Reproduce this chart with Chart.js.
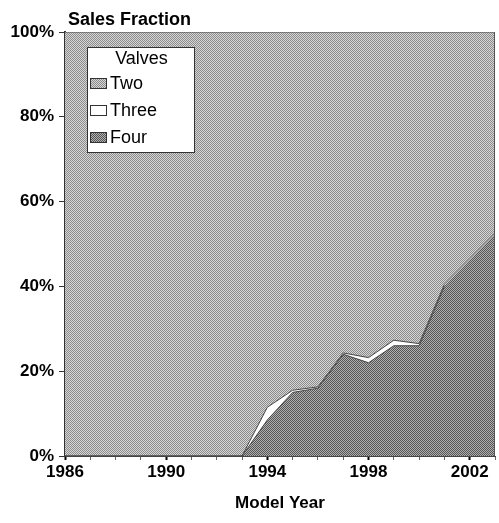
<!DOCTYPE html>
<html>
<head>
<meta charset="utf-8">
<script src="https://cdn.jsdelivr.net/npm/chart.js@4.4.1/dist/chart.umd.min.js"></script>
<style>
html, body { margin: 0; padding: 0; background: #fff; }
</style>
</head>
<body>
<canvas id="chart" width="499" height="523"></canvas>
<script>
// data (percent of sales)
const years = [1986, 1987, 1988, 1989, 1990, 1991, 1992, 1993, 1994, 1995, 1996, 1997, 1998, 1999, 2000, 2001, 2002, 2003];
const four  = [0, 0, 0, 0, 0, 0, 0, 0, 8.5, 15, 16, 24, 22, 26, 26, 40, 46, 52];
const three = [0, 0, 0, 0, 0, 0, 0, 0, 3, 0.5, 0.3, 0.3, 1.2, 1.3, 0.5, 0.5, 0.5, 0.5];
const two   = [100, 100, 100, 100, 100, 100, 100, 100, 88.5, 84.5, 83.7, 75.7, 76.8, 72.7, 73.5, 59.5, 53.5, 47.5];
const yearLabels = [1986, 1990, 1994, 1998, 2002];

const FONT = "'Liberation Sans', Arial, sans-serif";

// small checker stipple, like the printed halftone
function makePattern(light, dark){
    const c = document.createElement("canvas");
    c.width = 2; c.height = 2;
    const g = c.getContext("2d");
    g.fillStyle = light;
    g.fillRect(0, 0, 2, 2);
    g.fillStyle = dark;
    g.fillRect(0, 0, 1, 1);
    g.fillRect(1, 1, 1, 1);
    return g.createPattern(c, "repeat");
}

const ctx = document.getElementById("chart").getContext("2d");
const twoFill = makePattern("#d6d6d6", "#8c8c8c");
const fourFill = makePattern("#b0b0b0", "#555555");

const series = [
    { label: "Four",  data: four,  fill: "origin", bg: fourFill },
    { label: "Three", data: three, fill: "-1", bg: "#ffffff" },
    { label: "Two",   data: two,   fill: "-1", bg: twoFill }
];

const frame = {
    id: "frame",
    afterDraw(chart){
        const a = chart.chartArea;
        const c = chart.ctx;
        c.save();
        c.strokeStyle = "#555";
        c.lineWidth = 1;
        c.beginPath();
        c.moveTo(a.right - 0.5, a.top);
        c.lineTo(a.right - 0.5, a.bottom);
        c.stroke();

        // title over the plot
        c.fillStyle = "#000";
        c.font = "bold 18px " + FONT;
        c.textBaseline = "alphabetic";
        c.textAlign = "left";
        c.fillText("Sales Fraction", a.left + 3, a.top - 7);

        // legend box
        const lx = a.left + 22, ly = a.top + 15, lw = 107, lh = 105;
        c.fillStyle = "#fff";
        c.fillRect(lx, ly, lw, lh);
        c.strokeStyle = "#333";
        c.strokeRect(lx + 0.5, ly + 0.5, lw, lh);
        c.fillStyle = "#000";
        c.font = "18px " + FONT;
        c.textAlign = "center";
        c.textBaseline = "middle";
        c.fillText("Valves", lx + lw / 2 + 1, ly + 12);
        const items = [series[2], series[1], series[0]];
        items.forEach(function(s, i){
            const iy = ly + 36 + i * 27;
            c.fillStyle = s.bg;
            c.fillRect(lx + 3, iy - 5, 16, 10);
            c.strokeStyle = "#333";
            c.strokeRect(lx + 3.5, iy - 4.5, 16, 10);
            c.fillStyle = "#000";
            c.textAlign = "left";
            c.fillText(s.label, lx + 23, iy + 1);
        });
        c.restore();
    }
};

new Chart(ctx, {
    type: "line",
    data: {
        labels: years,
        datasets: series.map(function(s){
            return {
                label: s.label,
                data: s.data.map(function(v, i){ return { x: years[i], y: v }; }),
                fill: s.fill,
                backgroundColor: s.bg,
                borderColor: "#444",
                borderWidth: 1,
                pointRadius: 0,
                tension: 0
            };
        })
    },
    options: {
        responsive: false,
        animation: false,
        devicePixelRatio: 1,
        layout: { padding: { top: 32, right: 4, left: 0, bottom: 0 } },
        plugins: {
            legend: { display: false },
            tooltip: { enabled: false }
        },
        scales: {
            x: {
                type: "linear",
                min: 1986,
                max: 2003,
                afterFit: function(scale){ scale.height = 67; },
                border: { color: "#444", width: 1 },
                grid: {
                    drawOnChartArea: false,
                    tickLength: 4,
                    color: function(c){ return yearLabels.indexOf(c.tick.value) >= 0 ? "#000" : "#666"; },
                    tickWidth: function(c){ return yearLabels.indexOf(c.tick.value) >= 0 ? 2 : 1; }
                },
                ticks: {
                    stepSize: 1,
                    autoSkip: false,
                    maxRotation: 0,
                    padding: 2,
                    color: "#000",
                    font: { family: FONT, size: 17, weight: "bold" },
                    callback: function(v){ return yearLabels.indexOf(v) >= 0 ? String(v) : ""; }
                },
                title: {
                    display: true,
                    text: "Model Year",
                    color: "#000",
                    font: { family: FONT, size: 17, weight: "bold" },
                    padding: { top: 0, bottom: 9 }
                }
            },
            y: {
                stacked: true,
                min: 0,
                max: 100,
                afterFit: function(scale){ scale.width = 65; },
                border: { color: "#333", width: 2 },
                grid: { drawOnChartArea: false, tickLength: 6, color: "#333" },
                ticks: {
                    stepSize: 20,
                    padding: 5,
                    color: "#000",
                    font: { family: FONT, size: 17, weight: "bold" },
                    callback: function(v){ return v + "%"; }
                }
            }
        }
    },
    plugins: [frame]
});
</script>
</body>
</html>
